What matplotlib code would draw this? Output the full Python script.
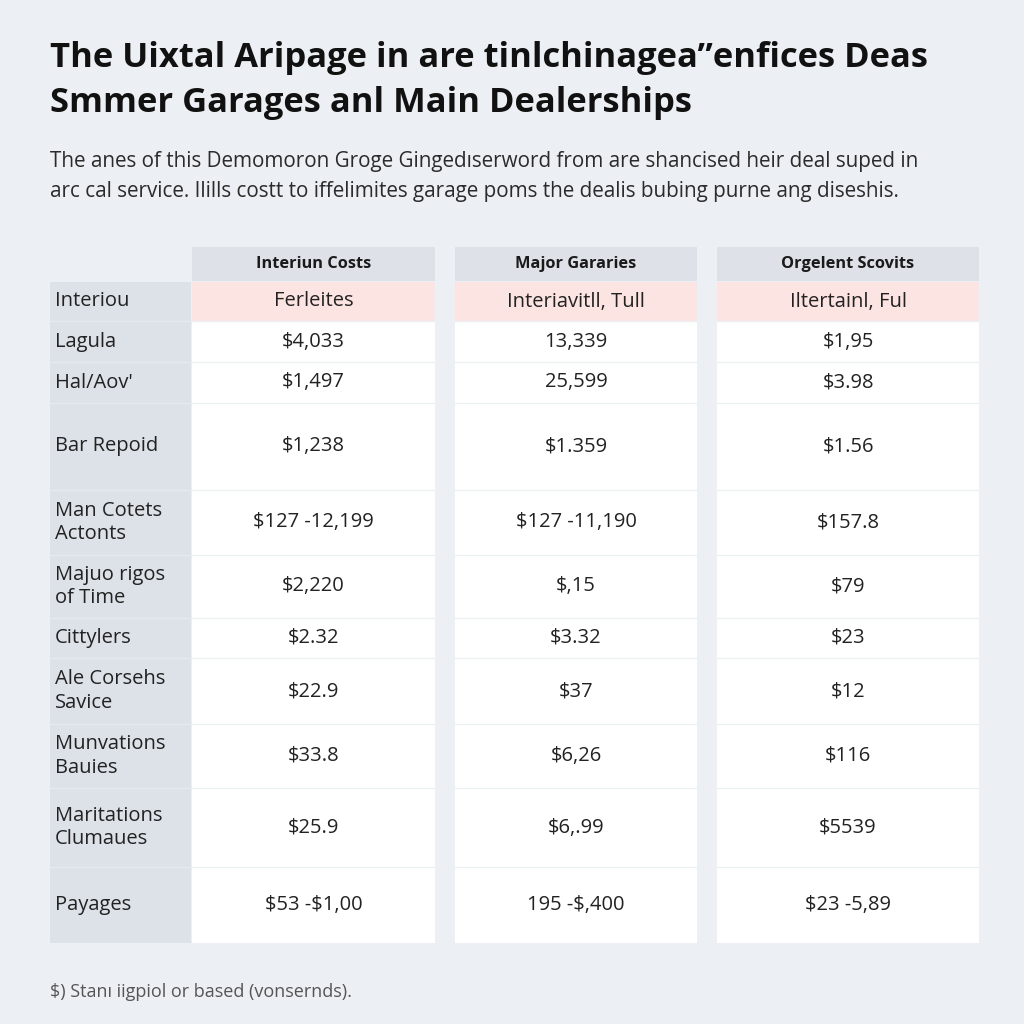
import matplotlib.pyplot as plt
from matplotlib.patches import Rectangle

plt.rcParams['font.family'] = ['Open Sans', 'DejaVu Sans']

# text content
title_lines = ["The Uixtal Aripage in are tinlchinagea\u201denfices Deas",
               "Smmer Garages anl Main Dealerships"]
subtitle_lines = ["The anes of this Demomoron Groge Gingedıserword from are shancised heir deal suped in",
                  "arc cal service. Ilills costt to iffelimites garage poms the dealis bubing purne ang diseshis."]
footnote = "$) Stanı iigpiol or based (vonsernds)."

columns = ["Interiun Costs", "Major Gararies", "Orgelent Scovits"]
sub_header_label = "Interiou"
sub_header = ["Ferleites", "Interiavitll, Tull", "Iltertainl, Ful"]

row_labels = ["Lagula", "Hal/Aov'", "Bar Repoid", "Man Cotets\nActonts", "Majuo rigos\nof Time",
              "Cittylers", "Ale Corsehs\nSavice", "Munvations\nBauies", "Maritations\nClumaues", "Payages"]
interior_costs = ["$4,033", "$1,497", "$1,238", "$127 -12,199", "$2,220", "$2.32",
                  "$22.9", "$33.8", "$25.9", "$53 -$1,00"]
major_garages = ["13,339", "25,599", "$1.359", "$127 -11,190", "$,15", "$3.32",
                 "$37", "$6,26", "$6,.99", "195 -$,400"]
dealer_costs = ["$1,95", "$3.98", "$1.56", "$157.8", "$79", "$23",
                "$12", "$116", "$5539", "$23 -5,89"]

# layout (pixels)
bg = '#ECEFF3'
row_edges = [282, 321, 362, 403, 490, 555, 618, 658, 724, 788, 867, 943]
label_x = (50, 191)
col_x = [(192, 435), (455, 697), (717, 979)]
header_y = (247, 281)

fig = plt.figure(figsize=(10.24, 10.24), dpi=100, facecolor=bg)
ax = fig.add_axes([0, 0, 1, 1])
ax.set_xlim(0, 1024)
ax.set_ylim(1024, 0)
ax.axis('off')


def put(x, y, s, **kw):
    ax.text(x, y, s, parse_math=False, va='center', **kw)


for i, line in enumerate(title_lines):
    put(50, 58 + i * 45, line, fontsize=24.8, fontweight='bold', color='#111111')
for i, line in enumerate(subtitle_lines):
    put(50, 162 + i * 30, line, fontsize=14.9, color='#2b2b2b')

top, bottom = row_edges[0], row_edges[-1]
# label column
ax.add_patch(Rectangle((label_x[0], top), label_x[1] - label_x[0], bottom - top,
                       facecolor='#DDE2E9', edgecolor='none'))
for (x0, x1), name in zip(col_x, columns):
    ax.add_patch(Rectangle((x0, header_y[0]), x1 - x0, header_y[1] - header_y[0],
                           facecolor='#DEE2E8', edgecolor='none'))
    put((x0 + x1) / 2, sum(header_y) / 2, name, fontsize=11.8, fontweight='bold',
        color='#1a1a1a', ha='center')
    ax.add_patch(Rectangle((x0, top), x1 - x0, row_edges[1] - top,
                           facecolor='#FCE4E2', edgecolor='none'))
    ax.add_patch(Rectangle((x0, row_edges[1]), x1 - x0, bottom - row_edges[1],
                           facecolor='white', edgecolor='none'))

# row separators
for y in row_edges[1:-1]:
    ax.plot([label_x[0], label_x[1]], [y, y], color='#E6EAEF', lw=1)
    for x0, x1 in col_x:
        ax.plot([x0, x1], [y, y], color='#EDF0F3', lw=1)

# sub header row
put(55, (row_edges[0] + row_edges[1]) / 2, sub_header_label, fontsize=14.5, color='#222222')
for (x0, x1), val in zip(col_x, sub_header):
    put((x0 + x1) / 2, (row_edges[0] + row_edges[1]) / 2, val, fontsize=14.5,
        color='#222222', ha='center')

# body rows
for i, label in enumerate(row_labels):
    yc = (row_edges[i + 1] + row_edges[i + 2]) / 2
    put(55, yc, label, fontsize=14.5, color='#222222', linespacing=1.25)
    for (x0, x1), col in zip(col_x, [interior_costs, major_garages, dealer_costs]):
        put((x0 + x1) / 2, yc, col[i], fontsize=14.5, color='#222222', ha='center')

put(50, 992, footnote, fontsize=13, color='#555555')

fig.savefig('out.png', dpi=100, facecolor=bg)
